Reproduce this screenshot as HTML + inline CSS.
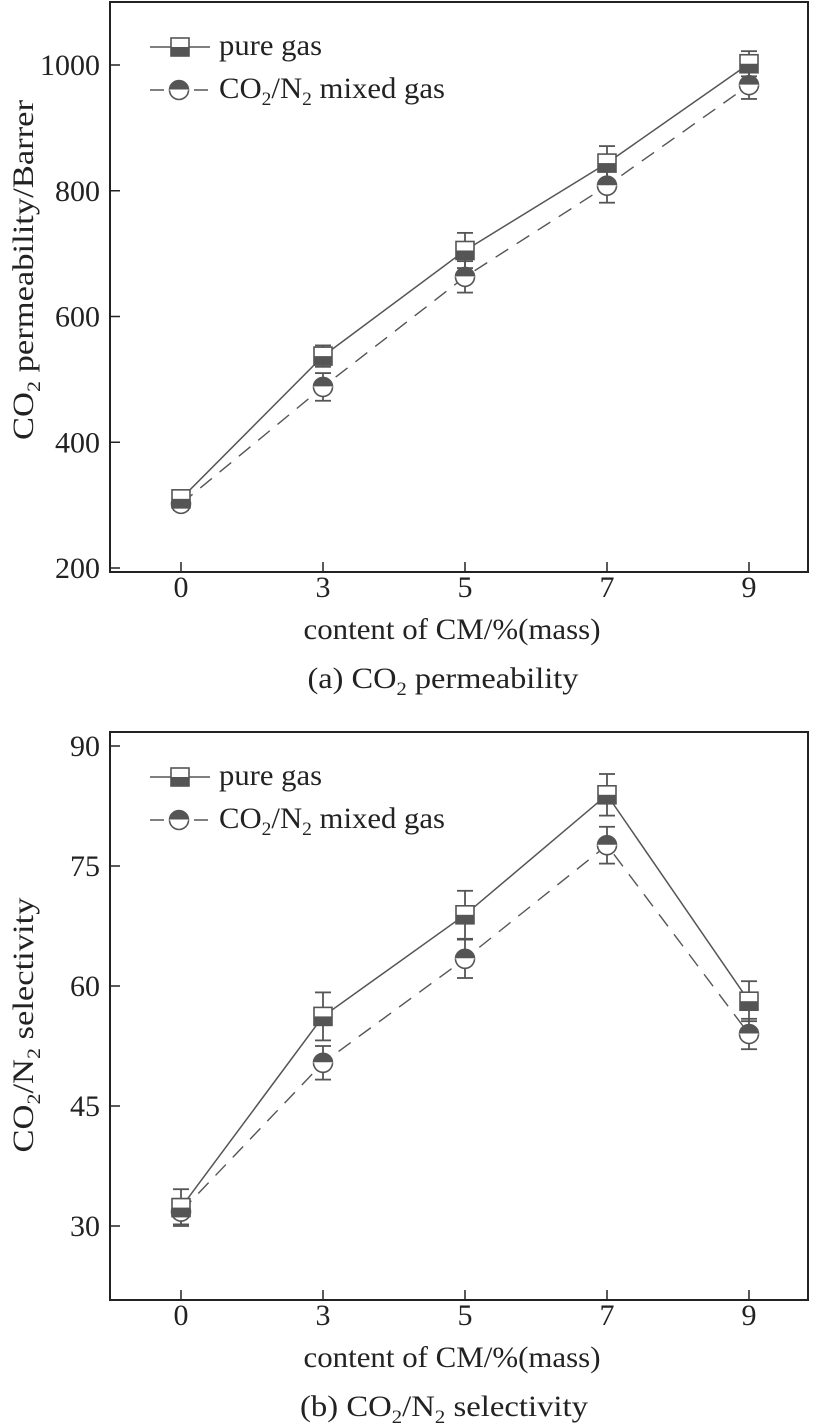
<!DOCTYPE html>
<html><head><meta charset="utf-8">
<style>
html,body{margin:0;padding:0;background:#fff;}
svg{display:block;font-family:"Liberation Serif",serif;}
</style></head>
<body>
<svg id="chart" width="824" height="1426" viewBox="0 0 824 1426" xmlns="http://www.w3.org/2000/svg">
<g id="pa"></g>
<g id="pb"></g>
</svg>
<script>
const categories = ["0","3","5","7","9"];
const permPure = [310, 537, 705, 844, 1002];
const permPureErr = [10, 17, 28, 27, 20];
const permMixed = [302, 488, 663, 808, 968];
const permMixedErr = [10, 22, 25, 27, 22];
const permTicks = [200, 400, 600, 800, 1000];
const selPure = [32.3, 56.2, 68.9, 83.9, 58.1];
const selPureErr = [2.3, 3.0, 3.0, 2.6, 2.5];
const selMixed = [31.8, 50.4, 63.4, 77.6, 54.0];
const selMixedErr = [1.6, 2.1, 2.4, 2.3, 1.9];
const selTicks = [30, 45, 60, 75, 90];

const NS = "http://www.w3.org/2000/svg";
const COL = "#555";
const FS = 30;
function mk(parent, tag, attrs, text){
  const e = document.createElementNS(NS, tag);
  for (const k in attrs) e.setAttribute(k, attrs[k]);
  if (text !== undefined) e.textContent = text;
  parent.appendChild(e);
  return e;
}
const xPos = i => 181 + i * 142;

function drawChart(g, cfg){
  const y = v => cfg.y0 - (v - cfg.v0) * cfg.k;
  const fr = mk(g,'rect',{x:110,y:cfg.top,width:698,height:cfg.bottom-cfg.top,fill:'none',stroke:'#222','stroke-width':2});
  
  
  cfg.ticks.forEach(t=>{
    const ln = mk(g,'line',{x1:110,x2:120,y1:y(t),y2:y(t),stroke:'#222','stroke-width':1.5});
    
    
    const tx = mk(g,'text',{x:100,y:y(t)+10,'text-anchor':'end','font-size':FS,fill:'#222'},t);
    
    
  });
  categories.forEach((c,i)=>{
    const ln = mk(g,'line',{x1:xPos(i),x2:xPos(i),y1:cfg.bottom,y2:cfg.bottom-10,stroke:'#222','stroke-width':1.5});
    
    
    const tx = mk(g,'text',{x:xPos(i),y:cfg.bottom+25,'text-anchor':'middle','font-size':FS,fill:'#222'},c);
    
    
  });
  const xt = mk(g,'text',{x:452,y:cfg.bottom+67,'text-anchor':'middle','font-size':FS,fill:'#222',textLength:297,lengthAdjust:'spacingAndGlyphs'},'content of CM/%(mass)');
  
  
  const yt = mk(g,'text',{transform:`translate(33,${cfg.ycenter}) rotate(-90)`,'text-anchor':'middle','font-size':FS,fill:'#222',textLength:cfg.ylen,lengthAdjust:'spacingAndGlyphs'});
  
  
  yt.innerHTML = cfg.ytitle;
  const cap = mk(g,'text',{x:cfg.capx,y:cfg.bottom+116,'text-anchor':'middle','font-size':FS,fill:'#222',textLength:cfg.caplen,lengthAdjust:'spacingAndGlyphs'});
  
  
  cap.innerHTML = cfg.caption;

  const pPts = cfg.pure.map((v,i)=>xPos(i)+','+y(v)).join(' ');
  const mPts = cfg.mixed.map((v,i)=>xPos(i)+','+y(v)).join(' ');
  const lm = mk(g,'polyline',{points:mPts,fill:'none',stroke:COL,'stroke-width':1.4,'stroke-dasharray':'15,10'});
  
  
  const lp = mk(g,'polyline',{points:pPts,fill:'none',stroke:COL,'stroke-width':1.5});
  
  

  function errbar(i, v, e, name){
    const x = xPos(i), a = y(v+e), b = y(v-e);
    const eg = mk(g,'g',{stroke:COL,'stroke-width':1.8});
    
    
    mk(eg,'line',{x1:x,x2:x,y1:a,y2:b});
    mk(eg,'line',{x1:x-8,x2:x+8,y1:a,y2:a});
    mk(eg,'line',{x1:x-8,x2:x+8,y1:b,y2:b});
  }
  cfg.mixed.forEach((v,i)=>errbar(i,v,cfg.mixedErr[i],'mixed-error-bar'));
  cfg.pure.forEach((v,i)=>errbar(i,v,cfg.pureErr[i],'pure-error-bar'));
  cfg.mixed.forEach((v,i)=>{
    const m = circleMarker(g, xPos(i), y(v));
    
    
  });
  cfg.pure.forEach((v,i)=>{
    const m = squareMarker(g, xPos(i), y(v));
    
    
  });

  const ly1 = cfg.top + 45, ly2 = cfg.top + 88;
  const lg1 = mk(g,'g',{});
  
  
  mk(lg1,'line',{x1:150,x2:210,y1:ly1,y2:ly1,stroke:COL,'stroke-width':1.5});
  squareMarker(lg1,180,ly1);
  mk(lg1,'text',{x:219,y:ly1+8,'font-size':FS,fill:'#222',textLength:103,lengthAdjust:'spacingAndGlyphs'},'pure gas');
  const lg2 = mk(g,'g',{});
  
  
  mk(lg2,'line',{x1:150,x2:164,y1:ly2,y2:ly2,stroke:COL,'stroke-width':1.5});
  mk(lg2,'line',{x1:194,x2:208,y1:ly2,y2:ly2,stroke:COL,'stroke-width':1.5});
  circleMarker(lg2,179,ly2);
  const t2 = mk(lg2,'text',{x:219,y:ly2+8,'font-size':FS,fill:'#222',textLength:226,lengthAdjust:'spacingAndGlyphs'});
  t2.innerHTML = 'CO<tspan font-size="19" dy="7">2</tspan><tspan dy="-7">/N</tspan><tspan font-size="19" dy="7">2</tspan><tspan dy="-7"> mixed gas</tspan>';
}
function squareMarker(parent,x,y){
  const s = mk(parent,'g',{});
  mk(s,'rect',{x:x-9,y:y-9,width:18,height:18,fill:'#fff',stroke:COL,'stroke-width':1.6});
  mk(s,'rect',{x:x-9,y:y,width:18,height:9,fill:COL});
  return s;
}
function circleMarker(parent,x,y){
  const s = mk(parent,'g',{});
  mk(s,'circle',{cx:x,cy:y,r:9.5,fill:'#fff',stroke:COL,'stroke-width':1.6});
  mk(s,'path',{d:`M${x-9.5},${y} A9.5,9.5 0 0 1 ${x+9.5},${y} Z`,fill:COL});
  mk(s,'line',{x1:x-9.5,x2:x+9.5,y1:y,y2:y,stroke:'#fff','stroke-width':1});
  return s;
}
drawChart(document.getElementById('pa'),{
  top:2,bottom:572,y0:568,v0:200,k:503/800,ticks:permTicks,
  pure:permPure,pureErr:permPureErr,mixed:permMixed,mixedErr:permMixedErr,ycenter:270,ylen:340,
  capx:443,caplen:271,
  ytitle:'CO<tspan font-size="19" dy="7">2</tspan><tspan dy="-7"> permeability/Barrer</tspan>',
  caption:'(a) CO<tspan font-size="19" dy="7">2</tspan><tspan dy="-7"> permeability</tspan>'
});
drawChart(document.getElementById('pb'),{
  top:732,bottom:1300,y0:1226,v0:30,k:8,ticks:selTicks,
  pure:selPure,pureErr:selPureErr,mixed:selMixed,mixedErr:selMixedErr,ycenter:1025,ylen:255,
  capx:444,caplen:288,
  ytitle:'CO<tspan font-size="19" dy="7">2</tspan><tspan dy="-7">/N</tspan><tspan font-size="19" dy="7">2</tspan><tspan dy="-7"> selectivity</tspan>',
  caption:'(b) CO<tspan font-size="19" dy="7">2</tspan><tspan dy="-7">/N</tspan><tspan font-size="19" dy="7">2</tspan><tspan dy="-7"> selectivity</tspan>'
});
</script>
</body></html>
